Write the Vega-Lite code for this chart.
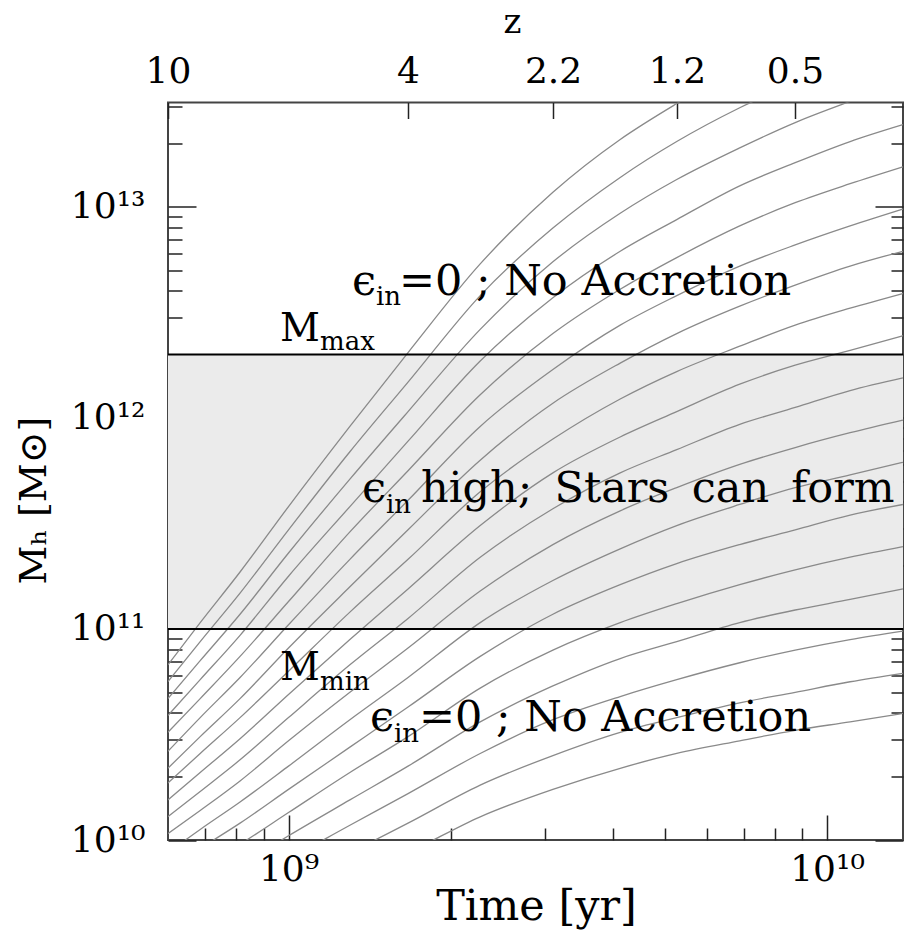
{
"$schema": "https://vega.github.io/schema/vega-lite/v6.json",
"width": 735, "height": 737.5,
"autosize": {"type": "none"},
"padding": {"left": 168, "top": 102.5, "right": 1, "bottom": 100},
"background": "white",
"config": {
 "view": {"stroke": "#444", "strokeWidth": 2},
 "font": "DejaVu Serif",
 "axis": {"domain": false, "grid": false, "labelFont": "DejaVu Serif", "titleFont": "DejaVu Serif", "labelColor": "black", "titleColor": "black", "tickColor": "#222", "tickWidth": 1.5, "labelFontSize": 36, "titleFontSize": 43, "titleFontWeight": "normal", "labelFlush": false, "labelOverlap": false, "labelBound": false}
},
"datasets": {
 "band": [{"lo": 11.0, "hi": 12.301}],
 "levels": [{"m": 11.0}, {"m": 12.301}],
 "big": [
  {"t": 9.1179, "m": 12.585, "s": "ϵ"},
  {"t": 9.2052, "m": 12.585, "s": "=0 ; No Accretion"},
  {"t": 9.1365, "m": 11.603, "s": "ϵ"},
  {"t": 9.2461, "m": 11.603, "s": "high;\u00a0\u2009Stars\u00a0\u2009can\u00a0\u2009form"},
  {"t": 9.1513, "m": 10.517, "s": "ϵ"},
  {"t": 9.2423, "m": 10.517, "s": "=0 ; No Accretion"}
 ],
 "caps": [
  {"t": 8.9842, "m": 12.367, "s": "M"},
  {"t": 8.9842, "m": 10.759, "s": "M"}
 ],
 "sub": [
  {"t": 9.1625, "m": 12.533, "s": "in"},
  {"t": 9.1811, "m": 11.551, "s": "in"},
  {"t": 9.1959, "m": 10.465, "s": "in"},
  {"t": 9.0585, "m": 12.324, "s": "max"},
  {"t": 9.0585, "m": 10.712, "s": "min"}
 ],
 "curves": [
{"c":1,"t":8.776,"m":10.83},{"c":1,"t":8.836,"m":11.03},{"c":1,"t":8.910,"m":11.27},{"c":1,"t":9.0,"m":11.58},{"c":1,"t":9.114,"m":11.96},{"c":1,"t":9.222,"m":12.31},{"c":1,"t":9.356,"m":12.73},{"c":1,"t":9.491,"m":13.07},{"c":1,"t":9.616,"m":13.32},{"c":1,"t":9.721,"m":13.49},{"c":1,"t":9.838,"m":13.66},{"c":1,"t":9.941,"m":13.79},{"c":1,"t":10.043,"m":13.90},{"c":1,"t":10.141,"m":13.99},
{"c":2,"t":8.776,"m":10.75},{"c":2,"t":8.836,"m":10.94},{"c":2,"t":8.910,"m":11.17},{"c":2,"t":9.0,"m":11.47},{"c":2,"t":9.114,"m":11.84},{"c":2,"t":9.222,"m":12.17},{"c":2,"t":9.356,"m":12.58},{"c":2,"t":9.491,"m":12.90},{"c":2,"t":9.616,"m":13.14},{"c":2,"t":9.721,"m":13.31},{"c":2,"t":9.838,"m":13.47},{"c":2,"t":9.941,"m":13.59},{"c":2,"t":10.043,"m":13.70},{"c":2,"t":10.141,"m":13.79},
{"c":3,"t":8.776,"m":10.67},{"c":3,"t":8.836,"m":10.85},{"c":3,"t":8.910,"m":11.07},{"c":3,"t":9.0,"m":11.36},{"c":3,"t":9.114,"m":11.71},{"c":3,"t":9.222,"m":12.03},{"c":3,"t":9.356,"m":12.42},{"c":3,"t":9.491,"m":12.74},{"c":3,"t":9.616,"m":12.97},{"c":3,"t":9.721,"m":13.13},{"c":3,"t":9.838,"m":13.28},{"c":3,"t":9.941,"m":13.40},{"c":3,"t":10.043,"m":13.50},{"c":3,"t":10.141,"m":13.59},
{"c":4,"t":8.776,"m":10.59},{"c":4,"t":8.836,"m":10.76},{"c":4,"t":8.910,"m":10.97},{"c":4,"t":9.0,"m":11.25},{"c":4,"t":9.114,"m":11.58},{"c":4,"t":9.222,"m":11.89},{"c":4,"t":9.356,"m":12.27},{"c":4,"t":9.491,"m":12.57},{"c":4,"t":9.616,"m":12.79},{"c":4,"t":9.721,"m":12.94},{"c":4,"t":9.838,"m":13.10},{"c":4,"t":9.941,"m":13.21},{"c":4,"t":10.043,"m":13.31},{"c":4,"t":10.141,"m":13.39},
{"c":5,"t":8.776,"m":10.51},{"c":5,"t":8.836,"m":10.67},{"c":5,"t":8.910,"m":10.87},{"c":5,"t":9.0,"m":11.13},{"c":5,"t":9.114,"m":11.46},{"c":5,"t":9.222,"m":11.75},{"c":5,"t":9.356,"m":12.11},{"c":5,"t":9.491,"m":12.40},{"c":5,"t":9.616,"m":12.61},{"c":5,"t":9.721,"m":12.76},{"c":5,"t":9.838,"m":12.91},{"c":5,"t":9.941,"m":13.02},{"c":5,"t":10.043,"m":13.11},{"c":5,"t":10.141,"m":13.19},
{"c":6,"t":8.776,"m":10.42},{"c":6,"t":8.836,"m":10.58},{"c":6,"t":8.910,"m":10.77},{"c":6,"t":9.0,"m":11.02},{"c":6,"t":9.114,"m":11.33},{"c":6,"t":9.222,"m":11.61},{"c":6,"t":9.356,"m":11.96},{"c":6,"t":9.491,"m":12.23},{"c":6,"t":9.616,"m":12.44},{"c":6,"t":9.721,"m":12.58},{"c":6,"t":9.838,"m":12.72},{"c":6,"t":9.941,"m":12.82},{"c":6,"t":10.043,"m":12.91},{"c":6,"t":10.141,"m":12.99},
{"c":7,"t":8.776,"m":10.34},{"c":7,"t":8.836,"m":10.49},{"c":7,"t":8.910,"m":10.67},{"c":7,"t":9.0,"m":10.91},{"c":7,"t":9.114,"m":11.20},{"c":7,"t":9.222,"m":11.47},{"c":7,"t":9.356,"m":11.80},{"c":7,"t":9.491,"m":12.07},{"c":7,"t":9.616,"m":12.26},{"c":7,"t":9.721,"m":12.40},{"c":7,"t":9.838,"m":12.53},{"c":7,"t":9.941,"m":12.63},{"c":7,"t":10.043,"m":12.72},{"c":7,"t":10.141,"m":12.79},
{"c":8,"t":8.776,"m":10.27},{"c":8,"t":8.836,"m":10.41},{"c":8,"t":8.910,"m":10.58},{"c":8,"t":9.0,"m":10.80},{"c":8,"t":9.114,"m":11.08},{"c":8,"t":9.222,"m":11.33},{"c":8,"t":9.356,"m":11.65},{"c":8,"t":9.491,"m":11.90},{"c":8,"t":9.616,"m":12.09},{"c":8,"t":9.721,"m":12.22},{"c":8,"t":9.838,"m":12.34},{"c":8,"t":9.941,"m":12.44},{"c":8,"t":10.043,"m":12.52},{"c":8,"t":10.141,"m":12.59},
{"c":9,"t":8.776,"m":10.19},{"c":9,"t":8.836,"m":10.32},{"c":9,"t":8.910,"m":10.48},{"c":9,"t":9.0,"m":10.69},{"c":9,"t":9.114,"m":10.95},{"c":9,"t":9.222,"m":11.19},{"c":9,"t":9.356,"m":11.49},{"c":9,"t":9.491,"m":11.74},{"c":9,"t":9.616,"m":11.91},{"c":9,"t":9.721,"m":12.03},{"c":9,"t":9.838,"m":12.16},{"c":9,"t":9.941,"m":12.25},{"c":9,"t":10.043,"m":12.32},{"c":9,"t":10.141,"m":12.39},
{"c":10,"t":8.776,"m":10.11},{"c":10,"t":8.836,"m":10.23},{"c":10,"t":8.910,"m":10.38},{"c":10,"t":9.0,"m":10.58},{"c":10,"t":9.114,"m":10.83},{"c":10,"t":9.222,"m":11.05},{"c":10,"t":9.356,"m":11.34},{"c":10,"t":9.491,"m":11.57},{"c":10,"t":9.616,"m":11.74},{"c":10,"t":9.721,"m":11.85},{"c":10,"t":9.838,"m":11.97},{"c":10,"t":9.941,"m":12.05},{"c":10,"t":10.043,"m":12.13},{"c":10,"t":10.141,"m":12.19},
{"c":11,"t":8.776,"m":10.03},{"c":11,"t":8.836,"m":10.14},{"c":11,"t":8.910,"m":10.28},{"c":11,"t":9.0,"m":10.47},{"c":11,"t":9.114,"m":10.70},{"c":11,"t":9.222,"m":10.91},{"c":11,"t":9.356,"m":11.18},{"c":11,"t":9.491,"m":11.40},{"c":11,"t":9.616,"m":11.56},{"c":11,"t":9.721,"m":11.67},{"c":11,"t":9.838,"m":11.78},{"c":11,"t":9.941,"m":11.86},{"c":11,"t":10.043,"m":11.93},{"c":11,"t":10.141,"m":11.99},
{"c":12,"t":8.776,"m":9.94},{"c":12,"t":8.836,"m":10.05},{"c":12,"t":8.910,"m":10.18},{"c":12,"t":9.0,"m":10.35},{"c":12,"t":9.114,"m":10.57},{"c":12,"t":9.222,"m":10.77},{"c":12,"t":9.356,"m":11.03},{"c":12,"t":9.491,"m":11.23},{"c":12,"t":9.616,"m":11.38},{"c":12,"t":9.721,"m":11.49},{"c":12,"t":9.838,"m":11.59},{"c":12,"t":9.941,"m":11.67},{"c":12,"t":10.043,"m":11.73},{"c":12,"t":10.141,"m":11.79},
{"c":13,"t":8.776,"m":9.86},{"c":13,"t":8.836,"m":9.96},{"c":13,"t":8.910,"m":10.08},{"c":13,"t":9.0,"m":10.24},{"c":13,"t":9.114,"m":10.44},{"c":13,"t":9.222,"m":10.63},{"c":13,"t":9.356,"m":10.87},{"c":13,"t":9.491,"m":11.07},{"c":13,"t":9.616,"m":11.21},{"c":13,"t":9.721,"m":11.31},{"c":13,"t":9.838,"m":11.40},{"c":13,"t":9.941,"m":11.47},{"c":13,"t":10.043,"m":11.54},{"c":13,"t":10.141,"m":11.59},
{"c":14,"t":8.776,"m":9.78},{"c":14,"t":8.836,"m":9.87},{"c":14,"t":8.910,"m":9.98},{"c":14,"t":9.0,"m":10.13},{"c":14,"t":9.114,"m":10.32},{"c":14,"t":9.222,"m":10.49},{"c":14,"t":9.356,"m":10.72},{"c":14,"t":9.491,"m":10.90},{"c":14,"t":9.616,"m":11.03},{"c":14,"t":9.721,"m":11.12},{"c":14,"t":9.838,"m":11.21},{"c":14,"t":9.941,"m":11.28},{"c":14,"t":10.043,"m":11.34},{"c":14,"t":10.141,"m":11.39},
{"c":15,"t":8.776,"m":9.70},{"c":15,"t":8.836,"m":9.78},{"c":15,"t":8.910,"m":9.88},{"c":15,"t":9.0,"m":10.02},{"c":15,"t":9.114,"m":10.19},{"c":15,"t":9.222,"m":10.35},{"c":15,"t":9.356,"m":10.56},{"c":15,"t":9.491,"m":10.73},{"c":15,"t":9.616,"m":10.86},{"c":15,"t":9.721,"m":10.94},{"c":15,"t":9.838,"m":11.03},{"c":15,"t":9.941,"m":11.09},{"c":15,"t":10.043,"m":11.14},{"c":15,"t":10.141,"m":11.19},
{"c":16,"t":8.776,"m":9.63},{"c":16,"t":8.836,"m":9.70},{"c":16,"t":8.910,"m":9.79},{"c":16,"t":9.0,"m":9.91},{"c":16,"t":9.114,"m":10.07},{"c":16,"t":9.222,"m":10.22},{"c":16,"t":9.356,"m":10.41},{"c":16,"t":9.491,"m":10.57},{"c":16,"t":9.616,"m":10.68},{"c":16,"t":9.721,"m":10.76},{"c":16,"t":9.838,"m":10.84},{"c":16,"t":9.941,"m":10.90},{"c":16,"t":10.043,"m":10.95},{"c":16,"t":10.141,"m":10.99},
{"c":17,"t":8.776,"m":9.54},{"c":17,"t":8.836,"m":9.61},{"c":17,"t":8.910,"m":9.69},{"c":17,"t":9.0,"m":9.80},{"c":17,"t":9.114,"m":9.94},{"c":17,"t":9.222,"m":10.08},{"c":17,"t":9.356,"m":10.26},{"c":17,"t":9.491,"m":10.40},{"c":17,"t":9.616,"m":10.51},{"c":17,"t":9.721,"m":10.58},{"c":17,"t":9.838,"m":10.65},{"c":17,"t":9.941,"m":10.70},{"c":17,"t":10.043,"m":10.75},{"c":17,"t":10.141,"m":10.79},
{"c":18,"t":8.776,"m":9.46},{"c":18,"t":8.836,"m":9.52},{"c":18,"t":8.910,"m":9.59},{"c":18,"t":9.0,"m":9.69},{"c":18,"t":9.114,"m":9.82},{"c":18,"t":9.222,"m":9.94},{"c":18,"t":9.356,"m":10.11},{"c":18,"t":9.491,"m":10.24},{"c":18,"t":9.616,"m":10.34},{"c":18,"t":9.721,"m":10.41},{"c":18,"t":9.838,"m":10.47},{"c":18,"t":9.941,"m":10.52},{"c":18,"t":10.043,"m":10.56},{"c":18,"t":10.141,"m":10.60}
 ]
},
"resolve": {"axis": {"x": "independent", "y": "independent"}},
"layer": [
 {
  "data": {"name": "band"},
  "mark": {"type": "rect", "color": "#ebebeb"},
  "encoding": {
   "y": {"field": "lo", "type": "quantitative", "scale": {"domain": [10, 13.495], "nice": false, "zero": false},
    "axis": {"orient": "left", "values": [10.301,10.477,10.602,10.699,10.778,10.845,10.903,10.954,11.301,11.477,11.602,11.699,11.778,11.845,11.903,11.954,12.301,12.477,12.602,12.699,12.778,12.845,12.903,12.954,13.301,13.477], "labels": false, "tickSize": -14, "title": null}},
   "y2": {"field": "hi"}
  }
 },
 {
  "data": {"name": "curves"},
  "mark": {"type": "line", "color": "#8a8a8a", "strokeWidth": 1.3, "clip": true, "interpolate": "monotone"},
  "encoding": {
   "x": {"field": "t", "type": "quantitative", "scale": {"domain": [8.7762, 10.1412], "nice": false, "zero": false},
    "axis": {"orient": "bottom", "values": [9, 10], "labelExpr": "datum.value < 9.5 ? '10⁹' : '10¹⁰'", "tickSize": -25, "labelPadding": 65, "labelBaseline": "alphabetic", "title": "Time [yr]", "titleX": 368, "titleY": 79, "titleBaseline": "alphabetic", "titleAlign": "center", "titleAnchor": null}},
   "y": {"field": "m", "type": "quantitative", "scale": {"domain": [10, 13.495], "nice": false, "zero": false},
    "axis": {"orient": "left", "values": [10, 11, 12, 13], "labelExpr": "datum.value < 10.5 ? '10¹⁰' : datum.value < 11.5 ? '10¹¹' : datum.value < 12.5 ? '10¹²' : '10¹³'", "tickSize": -28, "labelPadding": 51, "labelAlign": "right", "labelBaseline": "middle", "title": "Mₕ [M⊙]", "titleFontSize": 38, "titleX": -123, "titleY": 397.5, "titleAngle": 270, "titleBaseline": "alphabetic", "titleAlign": "center", "titleAnchor": null}},
   "detail": {"field": "c", "type": "nominal"}
  }
 },
 {
  "data": {"name": "levels"},
  "mark": {"type": "rule", "color": "black", "strokeWidth": 2},
  "encoding": {
   "y": {"field": "m", "type": "quantitative", "scale": {"domain": [10, 13.495], "nice": false, "zero": false},
    "axis": {"orient": "right", "values": [10.301,10.477,10.602,10.699,10.778,10.845,10.903,10.954,11.301,11.477,11.602,11.699,11.778,11.845,11.903,11.954,12.301,12.477,12.602,12.699,12.778,12.845,12.903,12.954,13.301,13.477], "labels": false, "tickSize": -12, "title": null}}
  }
 },
 {
  "data": {"name": "big"},
  "mark": {"type": "text", "font": "DejaVu Serif", "fontSize": 43, "align": "left", "baseline": "alphabetic", "color": "black"},
  "encoding": {
   "x": {"field": "t", "type": "quantitative", "scale": {"domain": [8.7762, 10.1412], "nice": false, "zero": false},
    "axis": {"orient": "bottom", "values": [8.8451, 8.9031, 8.9542, 9.301, 9.477, 9.602, 9.699, 9.778, 9.845, 9.903, 9.954], "labels": false, "tickSize": -12, "title": null}},
   "y": {"field": "m", "type": "quantitative", "scale": {"domain": [10, 13.495], "nice": false, "zero": false},
    "axis": {"orient": "right", "values": [10, 11, 12, 13], "labels": false, "tickSize": -28, "title": null}},
   "text": {"field": "s"}
  }
 },
 {
  "data": {"name": "caps"},
  "mark": {"type": "text", "font": "DejaVu Serif", "fontSize": 39, "align": "left", "baseline": "alphabetic", "color": "black"},
  "encoding": {
   "x": {"field": "t", "type": "quantitative", "scale": {"domain": [8.7762, 10.1412], "nice": false, "zero": false}, "axis": null},
   "y": {"field": "m", "type": "quantitative", "scale": {"domain": [10, 13.495], "nice": false, "zero": false}, "axis": null},
   "text": {"field": "s"}
  }
 },
 {
  "data": {"name": "sub"},
  "mark": {"type": "text", "font": "DejaVu Serif", "fontSize": 26, "align": "left", "baseline": "alphabetic", "color": "black"},
  "encoding": {
   "x": {"field": "t", "type": "quantitative", "scale": {"domain": [8.7762, 10.1412], "nice": false, "zero": false},
    "axis": {"orient": "top", "values": [8.7762, 9.2219, 9.4912, 9.7214, 9.9406], "labelExpr": "datum.value < 9 ? '10' : datum.value < 9.3 ? '4' : datum.value < 9.6 ? '2.2' : datum.value < 9.8 ? '1.2' : '0.5'", "tickSize": -16, "labelPadding": 36.5, "labelBaseline": "alphabetic", "title": "z", "titleFontSize": 34, "titleX": 344, "titleY": -70.5, "titleBaseline": "alphabetic", "titleAlign": "center", "titleAnchor": null}},
   "y": {"field": "m", "type": "quantitative", "scale": {"domain": [10, 13.495], "nice": false, "zero": false}, "axis": null},
   "text": {"field": "s"}
  }
 }
]
}
